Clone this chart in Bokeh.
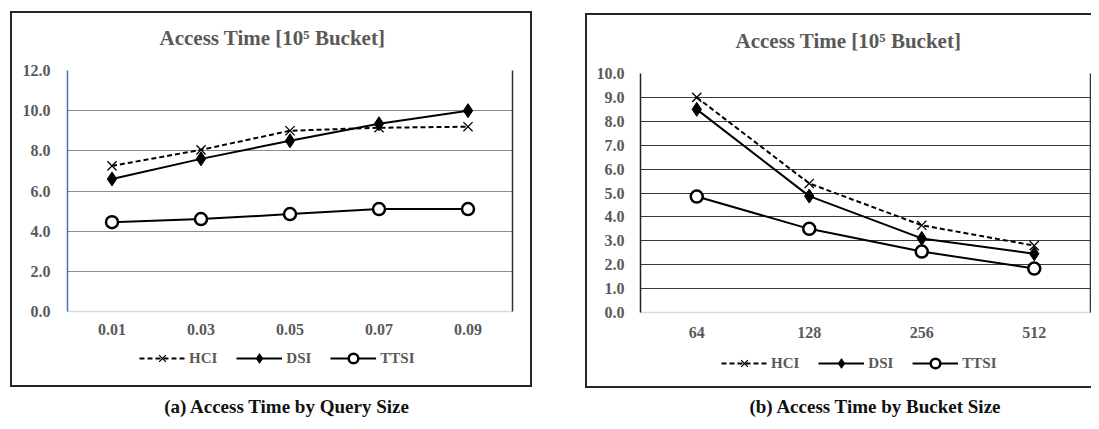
from bokeh.plotting import figure
from bokeh.models import (FactorRange, Range1d, FixedTicker, PrintfTickFormatter, Legend,
                          LegendItem, LinearAxis, Spacer, Div, Grid)
from bokeh.layouts import row, column
from bokeh.embed import file_html
from bokeh.resources import INLINE

# ---------------- data ----------------
query_sizes = ["0.01", "0.03", "0.05", "0.07", "0.09"]
hci_query = [7.25, 8.05, 9.0, 9.15, 9.2]
dsi_query = [6.6, 7.6, 8.5, 9.35, 10.0]
ttsi_query = [4.45, 4.6, 4.85, 5.1, 5.1]

bucket_sizes = ["64", "128", "256", "512"]
hci_bucket = [9.0, 5.4, 3.65, 2.8]
dsi_bucket = [8.5, 4.87, 3.1, 2.46]
ttsi_bucket = [4.85, 3.5, 2.55, 1.84]

y_ticks_query = [0, 2, 4, 6, 8, 10, 12]
y_ticks_bucket = [0, 1, 2, 3, 4, 5, 6, 7, 8, 9, 10]
series_names = ["HCI", "DSI", "TTSI"]
chart_title = "Access Time [10\u2075 Bucket]"
caption_a = "(a) Access Time by Query Size"
caption_b = "(b) Access Time by Bucket Size"

FONT = "Liberation Serif"
TXT = "#595959"
EDGE = "#262626"


def box_top_css(top, with_right):
    """Outer chart box (top, left and optionally right edge) painted behind the canvas."""
    g = f"linear-gradient({EDGE},{EDGE})"
    imgs = [g, g] + ([g] if with_right else [])
    pos = [f"0 {top}px", f"0 {top}px"] + ([f"right 0 top {top}px"] if with_right else [])
    size = ["100% 2px", "2px 100%"] + (["2px 100%"] if with_right else [])
    return {"background-image": ", ".join(imgs),
            "background-position": ", ".join(pos),
            "background-size": ", ".join(size),
            "background-repeat": "no-repeat"}


def draw_series(p, cats, hci, dsi, ttsi):
    l_hci = p.line(x=cats, y=hci, line_color="black", line_width=2, line_dash="5 3")
    s_hci = p.scatter(x=cats, y=hci, marker="x", size=13, line_color="black", line_width=1.3)
    l_dsi = p.line(x=cats, y=dsi, line_color="black", line_width=2)
    s_dsi = p.scatter(x=cats, y=dsi, marker="diamond", size=14, fill_color="black",
                      line_color="black", line_width=1)
    l_tt = p.line(x=cats, y=ttsi, line_color="black", line_width=2)
    s_tt = p.scatter(x=cats, y=ttsi, marker="circle", size=12, fill_color="white",
                     line_color="black", line_width=2.5)
    return [(l_hci, s_hci), (l_dsi, s_dsi), (l_tt, s_tt)]


def make_chart(cats, hci, dsi, ttsi, yticks, width, height, borders, grid_color,
               yaxis_color, title_offset, title_standoff, xstand, ystand, styles):
    mbl, mbr, mbt, mbb = borders
    p = figure(x_range=FactorRange(factors=cats), y_range=Range1d(yticks[0], yticks[-1]),
               width=width, height=height, output_backend="svg", toolbar_location=None,
               min_border_left=mbl, min_border_right=mbr, min_border_top=mbt,
               min_border_bottom=mbb, title=chart_title, styles=styles)
    p.outline_line_color = None
    p.background_fill_color = "white"
    p.border_fill_alpha = 0

    p.title.align = "left"
    p.title.vertical_align = "top"
    p.title.offset = title_offset
    p.title.standoff = title_standoff
    p.title.text_font = FONT
    p.title.text_font_style = "bold"
    p.title.text_font_size = "21px"
    p.title.text_color = TXT

    ya = p.yaxis[0]
    ya.ticker = FixedTicker(ticks=yticks)
    ya.formatter = PrintfTickFormatter(format="%.1f")
    ya.major_tick_line_color = None
    ya.minor_tick_line_color = None
    ya.axis_line_color = yaxis_color
    ya.axis_line_width = 1.5
    ya.major_label_standoff = ystand
    ya.major_label_text_font = FONT
    ya.major_label_text_font_style = "bold"
    ya.major_label_text_font_size = "16px"
    ya.major_label_text_color = TXT

    xa = p.xaxis[0]
    xa.major_tick_line_color = None
    xa.minor_tick_line_color = None
    xa.axis_line_color = "#d9d9d9"
    xa.axis_line_width = 1.5
    xa.major_label_standoff = xstand
    xa.major_label_text_font = FONT
    xa.major_label_text_font_style = "bold"
    xa.major_label_text_font_size = "16px"
    xa.major_label_text_color = TXT

    p.xgrid.visible = False
    p.ygrid.ticker = FixedTicker(ticks=yticks[1:-1])
    p.ygrid.grid_line_color = grid_color
    p.ygrid.grid_line_width = 1

    top_grid = Grid(dimension=1, ticker=FixedTicker(ticks=[yticks[-1]]),
                    grid_line_color="#333333", grid_line_width=2.5)
    p.add_layout(top_grid)

    right_axis = LinearAxis(ticker=FixedTicker(ticks=[]), axis_line_color="#333333",
                            axis_line_width=1.5, major_tick_line_color=None,
                            minor_tick_line_color=None, major_label_text_font_size="0px",
                            major_label_standoff=0)
    p.add_layout(right_axis, "right")

    draw_series(p, cats, hci, dsi, ttsi)
    return p


def make_legend_fig(cats, hci, dsi, ttsi, width, height, loc, box_css):
    # a strip below the chart that carries the legend (its own series lie outside its range)
    p = figure(x_range=FactorRange(factors=cats), y_range=Range1d(100, 101),
               width=width, height=height, output_backend="svg", toolbar_location=None,
               x_axis_location=None, y_axis_location=None, min_border=0,
               styles={"box-shadow": box_css})
    p.grid.visible = False
    p.outline_line_color = None
    p.background_fill_alpha = 0
    p.border_fill_alpha = 0
    pairs = draw_series(p, cats, hci, dsi, ttsi)
    legend = Legend(items=[LegendItem(label=n, renderers=list(r))
                           for n, r in zip(series_names, pairs)],
                    location=loc, orientation="horizontal", glyph_width=46,
                    glyph_height=24, label_standoff=4, spacing=19, padding=0, margin=0,
                    border_line_color=None, background_fill_alpha=0,
                    label_text_font=FONT, label_text_font_style="bold",
                    label_text_font_size="15px", label_text_color=TXT)
    p.add_layout(legend)
    return p


# left box: 10..532 x 11..387 (chart fig starts at y=7) ; right box: 585..(1091) x 13..388 (fig at y=10)
fig_a = make_chart(query_sizes, hci_query, dsi_query, ttsi_query, y_ticks_query,
                   522, 333, (57, 20, 62, 29), "#8c8c8c", "#4472C4", 92, 37, 6, 11,
                   box_top_css(4, True))
leg_a = make_legend_fig(query_sizes, hci_query, dsi_query, ttsi_query, 522, 47, (72, 17),
                        f"inset 2px 0 0 0 {EDGE}, inset -2px 0 0 0 {EDGE}, inset 0 -2px 0 0 {EDGE}")
fig_b = make_chart(bucket_sizes, hci_bucket, dsi_bucket, ttsi_bucket, y_ticks_bucket,
                   506, 334, (55, 1, 62, 32), "#3a3a3a", "#222222", 95, 37, 8, 10,
                   box_top_css(3, False))
leg_b = make_legend_fig(bucket_sizes, hci_bucket, dsi_bucket, ttsi_bucket, 506, 44, (81, 13),
                        f"inset 2px 0 0 0 {EDGE}, inset 0 -2px 0 0 {EDGE}")

cap_style = ("font-family:'Liberation Serif';font-weight:bold;font-size:19px;"
             "text-align:center;line-height:24px;padding-top:7px;color:#111;white-space:nowrap;")
div_a = Div(text=f'<div style="{cap_style}width:557px;">{caption_a}</div>',
            width=557, height=33, margin=0)
div_b = Div(text=f'<div style="{cap_style}width:432px;">{caption_b}</div>',
            width=432, height=33, margin=0)

charts = row(Spacer(width=10, height=10, margin=0),
             column(Spacer(width=10, height=7, margin=0), fig_a, leg_a),
             Spacer(width=53, height=10, margin=0),
             column(Spacer(width=10, height=10, margin=0), fig_b, leg_b))
captions = row(Spacer(width=8, height=10, margin=0), div_a,
               Spacer(width=94, height=10, margin=0), div_b)
layout = column(charts, captions)

open("out.html", "w").write(file_html(layout, INLINE))
